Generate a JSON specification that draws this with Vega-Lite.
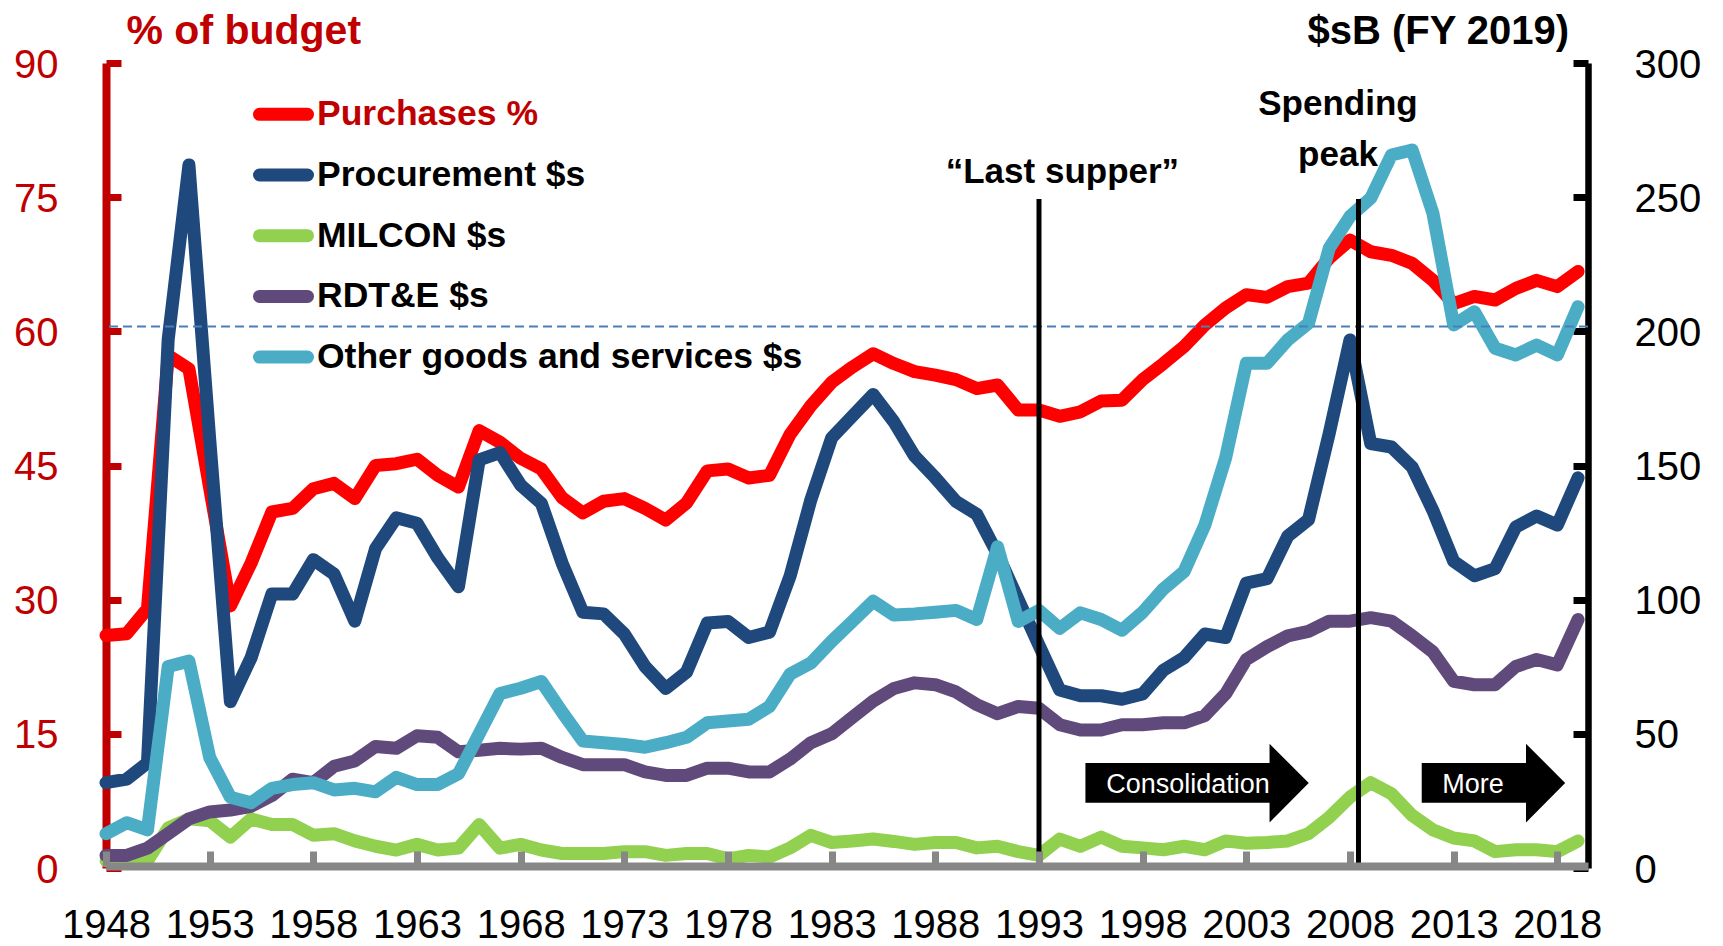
{
  "$schema": "https://vega.github.io/schema/vega-lite/v6.json",
  "width": 1482,
  "height": 805,
  "autosize": {"type": "none"},
  "padding": {"left": 106, "top": 63, "right": 135, "bottom": 78},
  "background": "white",
  "config": {
    "view": {"stroke": null},
    "font": "Liberation Sans",
    "axisX": {
      "title": null, "grid": false, "domain": true, "ticks": true,
      "format": "d", "labelFlush": false, "labelOverlap": false,
      "domainColor": "#878787", "domainWidth": 8, "domainOpacity": 1,
      "tickColor": "#878787", "tickWidth": 7, "tickSize": -15, "tickOpacity": 1,
      "labelFont": "Liberation Sans", "labelFontSize": 40, "labelColor": "black",
      "labelBaseline": "alphabetic", "labelPadding": 86, "offset": -2, "zindex": 1
    }
  },
  "datasets": {
    "budget": [
      {"year": 1948, "pur": 26.0, "proc": 31.8, "mil": 2.7, "rdt": 4.7, "oth": 12.8},
      {"year": 1949, "pur": 26.2, "proc": 33.1, "mil": 2.7, "rdt": 4.7, "oth": 16.9},
      {"year": 1950, "pur": 29.0, "proc": 39.2, "mil": 2.7, "rdt": 7.4, "oth": 14.2},
      {"year": 1951, "pur": 57.3, "proc": 197, "mil": 14.9, "rdt": 12.8, "oth": 75.1},
      {"year": 1952, "pur": 55.8, "proc": 262, "mil": 18.3, "rdt": 18.3, "oth": 77.1},
      {"year": 1953, "pur": 42.5, "proc": 160, "mil": 17.6, "rdt": 20.9, "oth": 41.2},
      {"year": 1954, "pur": 29.3, "proc": 62, "mil": 11.5, "rdt": 21.6, "oth": 26.4},
      {"year": 1955, "pur": 34.1, "proc": 78.4, "mil": 18.3, "rdt": 23.0, "oth": 24.3},
      {"year": 1956, "pur": 39.8, "proc": 102.1, "mil": 16.2, "rdt": 27.0, "oth": 29.7},
      {"year": 1957, "pur": 40.2, "proc": 102.1, "mil": 16.2, "rdt": 33.1, "oth": 31.1},
      {"year": 1958, "pur": 42.4, "proc": 114.9, "mil": 12.2, "rdt": 31.8, "oth": 31.8},
      {"year": 1959, "pur": 43.0, "proc": 109.5, "mil": 12.8, "rdt": 37.9, "oth": 29.1},
      {"year": 1960, "pur": 41.3, "proc": 92.0, "mil": 10.1, "rdt": 39.9, "oth": 29.7},
      {"year": 1961, "pur": 45.0, "proc": 119.0, "mil": 8.1, "rdt": 45.3, "oth": 28.4},
      {"year": 1962, "pur": 45.2, "proc": 130.5, "mil": 6.7, "rdt": 44.6, "oth": 33.8},
      {"year": 1963, "pur": 45.7, "proc": 128.5, "mil": 8.8, "rdt": 49.3, "oth": 31.1},
      {"year": 1964, "pur": 43.9, "proc": 115.6, "mil": 6.7, "rdt": 48.7, "oth": 31.1},
      {"year": 1965, "pur": 42.6, "proc": 104.8, "mil": 7.4, "rdt": 43.3, "oth": 35.1},
      {"year": 1966, "pur": 48.9, "proc": 152.1, "mil": 16.2, "rdt": 43.9, "oth": 50.0},
      {"year": 1967, "pur": 47.6, "proc": 154.8, "mil": 7.4, "rdt": 44.6, "oth": 65.0},
      {"year": 1968, "pur": 45.8, "proc": 142.7, "mil": 8.8, "rdt": 44.3, "oth": 67.0},
      {"year": 1969, "pur": 44.6, "proc": 135.9, "mil": 6.7, "rdt": 44.6, "oth": 69.5},
      {"year": 1970, "pur": 41.4, "proc": 113.6, "mil": 5.4, "rdt": 41.2, "oth": 58.1},
      {"year": 1971, "pur": 39.7, "proc": 95.3, "mil": 5.4, "rdt": 38.5, "oth": 47.3},
      {"year": 1972, "pur": 41.0, "proc": 94.7, "mil": 5.4, "rdt": 38.5, "oth": 46.7},
      {"year": 1973, "pur": 41.3, "proc": 87.2, "mil": 6.1, "rdt": 38.5, "oth": 46.0},
      {"year": 1974, "pur": 40.2, "proc": 75.1, "mil": 6.1, "rdt": 35.8, "oth": 45.0},
      {"year": 1975, "pur": 38.9, "proc": 66.9, "mil": 4.7, "rdt": 34.5, "oth": 46.7},
      {"year": 1976, "pur": 40.8, "proc": 73.0, "mil": 5.4, "rdt": 34.5, "oth": 48.7},
      {"year": 1977, "pur": 44.4, "proc": 91.3, "mil": 5.4, "rdt": 37.2, "oth": 54.1},
      {"year": 1978, "pur": 44.6, "proc": 91.9, "mil": 3.4, "rdt": 37.2, "oth": 54.8},
      {"year": 1979, "pur": 43.6, "proc": 85.9, "mil": 4.7, "rdt": 35.8, "oth": 55.4},
      {"year": 1980, "pur": 43.9, "proc": 87.9, "mil": 4.1, "rdt": 35.8, "oth": 60.2},
      {"year": 1981, "pur": 48.5, "proc": 108.9, "mil": 7.5, "rdt": 40.6, "oth": 72.3},
      {"year": 1982, "pur": 51.7, "proc": 137.3, "mil": 12.2, "rdt": 46.7, "oth": 76.4},
      {"year": 1983, "pur": 54.3, "proc": 160.3, "mil": 9.5, "rdt": 50.0, "oth": 84.5},
      {"year": 1984, "pur": 56.0, "proc": 168.4, "mil": 10.1, "rdt": 56.1, "oth": 91.9},
      {"year": 1985, "pur": 57.5, "proc": 176.5, "mil": 10.8, "rdt": 62.2, "oth": 99.4},
      {"year": 1986, "pur": 56.4, "proc": 166.3, "mil": 9.9, "rdt": 66.9, "oth": 94.3},
      {"year": 1987, "pur": 55.5, "proc": 153.5, "mil": 8.8, "rdt": 69.0, "oth": 94.7},
      {"year": 1988, "pur": 55.1, "proc": 145.4, "mil": 9.5, "rdt": 68.3, "oth": 95.3},
      {"year": 1989, "pur": 54.6, "proc": 136.6, "mil": 9.5, "rdt": 65.6, "oth": 96.0},
      {"year": 1990, "pur": 53.6, "proc": 131.8, "mil": 7.5, "rdt": 60.9, "oth": 92.6},
      {"year": 1991, "pur": 54.0, "proc": 117, "mil": 8.1, "rdt": 57.5, "oth": 119.7},
      {"year": 1992, "pur": 51.2, "proc": 100, "mil": 6.1, "rdt": 60.2, "oth": 91.9},
      {"year": 1993, "pur": 51.2, "proc": 83, "mil": 4.7, "rdt": 59.5, "oth": 96.0},
      {"year": 1994, "pur": 50.5, "proc": 66.3, "mil": 10.8, "rdt": 53.4, "oth": 89.3},
      {"year": 1995, "pur": 51.0, "proc": 64.2, "mil": 8.1, "rdt": 51.4, "oth": 95.1},
      {"year": 1996, "pur": 52.2, "proc": 64.2, "mil": 11.5, "rdt": 51.4, "oth": 92.6},
      {"year": 1997, "pur": 52.3, "proc": 62.9, "mil": 8.1, "rdt": 53.4, "oth": 88.6},
      {"year": 1998, "pur": 54.6, "proc": 64.9, "mil": 7.5, "rdt": 53.4, "oth": 95.3},
      {"year": 1999, "pur": 56.4, "proc": 73.7, "mil": 6.8, "rdt": 54.1, "oth": 104.0},
      {"year": 2000, "pur": 58.3, "proc": 78.4, "mil": 8.1, "rdt": 54.1, "oth": 110.5},
      {"year": 2001, "pur": 60.7, "proc": 87.2, "mil": 6.8, "rdt": 56.8, "oth": 127.8},
      {"year": 2002, "pur": 62.6, "proc": 85.9, "mil": 10.1, "rdt": 64.9, "oth": 152.8},
      {"year": 2003, "pur": 64.1, "proc": 106.2, "mil": 9.2, "rdt": 77.7, "oth": 188.1},
      {"year": 2004, "pur": 63.8, "proc": 107.8, "mil": 9.5, "rdt": 82.5, "oth": 188.1},
      {"year": 2005, "pur": 65.0, "proc": 123.7, "mil": 10.1, "rdt": 86.5, "oth": 196.8},
      {"year": 2006, "pur": 65.4, "proc": 129.8, "mil": 12.8, "rdt": 88.2, "oth": 203.0},
      {"year": 2007, "pur": 68.2, "proc": 162, "mil": 18.9, "rdt": 92.0, "oth": 231.0},
      {"year": 2008, "pur": 70.2, "proc": 196.8, "mil": 26.4, "rdt": 92.0, "oth": 242.8},
      {"year": 2009, "pur": 68.9, "proc": 158.2, "mil": 31.8, "rdt": 93.3, "oth": 249.6},
      {"year": 2010, "pur": 68.5, "proc": 156.9, "mil": 27.7, "rdt": 92.0, "oth": 265.7},
      {"year": 2011, "pur": 67.6, "proc": 149.4, "mil": 19.6, "rdt": 86.5, "oth": 267.6},
      {"year": 2012, "pur": 65.7, "proc": 133.2, "mil": 14.2, "rdt": 80.5, "oth": 244.0},
      {"year": 2013, "pur": 63.1, "proc": 114.3, "mil": 11.2, "rdt": 69.6, "oth": 202.4},
      {"year": 2014, "pur": 63.9, "proc": 108.9, "mil": 10.1, "rdt": 68.3, "oth": 207.3},
      {"year": 2015, "pur": 63.5, "proc": 111.6, "mil": 6.1, "rdt": 68.3, "oth": 193.7},
      {"year": 2016, "pur": 64.8, "proc": 127.1, "mil": 6.8, "rdt": 75.1, "oth": 191.2},
      {"year": 2017, "pur": 65.7, "proc": 131.2, "mil": 6.8, "rdt": 77.7, "oth": 194.9},
      {"year": 2018, "pur": 65.0, "proc": 127.8, "mil": 6.1, "rdt": 75.7, "oth": 191.2},
      {"year": 2019, "pur": 66.7, "proc": 145.4, "mil": 10.1, "rdt": 92.6, "oth": 209.2}
    ],
    "refline": [{"pct": 60.55}],
    "vlines": [
      {"year": 1993, "lo": 0, "hi": 74.8},
      {"year": 2008.41, "lo": 0, "hi": 74.8}
    ],
    "notes": [
      {"label": "“Last supper”", "year": 1994.13, "pct": 76.55},
      {"label": "Spending", "year": 2007.42, "pct": 84.2},
      {"label": "peak", "year": 2007.42, "pct": 78.5}
    ],
    "arrowBody": [
      {"arrow": "a", "x1": 1995.24, "x2": 2004.15, "top": 11.73, "bot": 7.3},
      {"arrow": "b", "x1": 2011.46, "x2": 2016.52, "top": 11.73, "bot": 7.3}
    ],
    "arrowHead": [
      {"arrow": "a", "year": 2004.12, "top": 13.9, "bot": 5.1},
      {"arrow": "a", "year": 2006.01, "top": 9.5, "bot": 9.5},
      {"arrow": "b", "year": 2016.49, "top": 13.9, "bot": 5.1},
      {"arrow": "b", "year": 2018.38, "top": 9.5, "bot": 9.5}
    ],
    "arrowText": [
      {"label": "Consolidation", "year": 2000.19, "pct": 8.44},
      {"label": "More", "year": 2013.93, "pct": 8.44}
    ]
  },
  "layer": [
    {
      "data": {"name": "budget"},
      "transform": [{"fold": ["pur"], "as": ["series", "value"]}],
      "mark": {"type": "line", "strokeWidth": 13, "strokeCap": "round", "strokeJoin": "round"},
      "encoding": {
        "x": {
          "field": "year", "type": "quantitative", "title": null,
          "scale": {"domain": [1948, 2019.48], "nice": false, "zero": false},
          "axis": {"values": [1948, 1953, 1958, 1963, 1968, 1973, 1978, 1983, 1988, 1993, 1998, 2003, 2008, 2013, 2018], "domain": true, "domainColor": "#878787", "domainWidth": 8, "ticks": true, "tickColor": "#878787", "tickWidth": 7, "tickSize": -15, "zindex": 1}
        },
        "y": {
          "field": "value", "type": "quantitative",
          "scale": {"domain": [0, 90], "nice": false},
          "axis": {
            "orient": "left", "grid": false,
            "values": [0, 15, 30, 45, 60, 75, 90],
            "domainColor": "#C00000", "domainWidth": 8,
            "tickColor": "#C00000", "tickWidth": 7, "tickSize": -15,
            "labelFont": "Liberation Sans", "labelFontSize": 40, "labelColor": "#C00000",
            "labelPadding": 63, "labelOffset": 2,
            "title": "% of budget", "titleColor": "#C00000", "titleFont": "Liberation Sans",
            "titleFontSize": 41, "titleFontWeight": "bold", "titleAngle": 0,
            "titleAlign": "left", "titleBaseline": "alphabetic", "titleX": 20, "titleY": -20
          }
        },
        "color": {
          "field": "series", "type": "nominal",
          "scale": {
            "domain": ["pur", "proc", "mil", "rdt", "oth"],
            "range": ["#FF0000", "#1F497D", "#92D050", "#604A7B", "#4BACC6"]
          },
          "legend": {
            "orient": "none", "legendX": 147, "legendY": 20.8, "title": null,
            "padding": 0, "offset": 0,
            "symbolType": "stroke", "symbolStrokeWidth": 13, "symbolSize": 2304,
            "labelFont": "Liberation Sans", "labelFontSize": 35.5, "labelFontWeight": "bold",
            "labelColor": "black", "labelOffset": 3, "labelLimit": 1000, "rowPadding": 3.7,
            "labelExpr": "datum.value === 'pur' ? 'Purchases %' : datum.value === 'proc' ? 'Procurement $s' : datum.value === 'mil' ? 'MILCON $s' : datum.value === 'rdt' ? 'RDT&E $s' : 'Other goods and services $s'",
            "encode": {
              "symbols": {"update": {"strokeCap": {"value": "round"}}},
              "labels": {"update": {"fill": {"signal": "datum.value === 'pur' ? '#C00000' : '#000000'"}}}
            }
          }
        }
      }
    },
    {
      "data": {"name": "budget"},
      "transform": [{"fold": ["proc", "mil", "rdt", "oth"], "as": ["series", "value"]}],
      "mark": {"type": "line", "strokeWidth": 13, "strokeCap": "round", "strokeJoin": "round"},
      "encoding": {
        "x": {"field": "year", "type": "quantitative", "title": null, "axis": {"values": [1948, 1953, 1958, 1963, 1968, 1973, 1978, 1983, 1988, 1993, 1998, 2003, 2008, 2013, 2018], "domain": true, "domainColor": "#878787", "domainWidth": 8, "ticks": true, "tickColor": "#878787", "tickWidth": 7, "tickSize": -15, "zindex": 1}},
        "y": {
          "field": "value", "type": "quantitative",
          "scale": {"domain": [0, 300], "nice": false},
          "axis": {
            "orient": "right", "grid": false,
            "values": [0, 50, 100, 150, 200, 250, 300],
            "domainColor": "black", "domainWidth": 6.5,
            "tickColor": "black", "tickWidth": 7, "tickSize": -15,
            "labelFont": "Liberation Sans", "labelFontSize": 40, "labelColor": "black",
            "labelPadding": 61, "labelOffset": 2, "labelAlign": "left",
            "title": "$sB (FY 2019)", "titleColor": "black", "titleFont": "Liberation Sans",
            "titleFontSize": 40, "titleFontWeight": "bold", "titleAngle": 0,
            "titleAlign": "left", "titleBaseline": "alphabetic", "titleX": -281, "titleY": -20
          }
        },
        "color": {"field": "series", "type": "nominal", "legend": null}
      }
    },
    {
      "data": {"name": "refline"},
      "mark": {"type": "rule", "color": "#4A7EBB", "strokeWidth": 2, "strokeDash": [9, 5]},
      "encoding": {
        "y": {"field": "pct", "type": "quantitative", "scale": {"domain": [0, 90], "nice": false}, "axis": null}
      }
    },
    {
      "data": {"name": "vlines"},
      "mark": {"type": "rule", "color": "black", "strokeWidth": 5},
      "encoding": {
        "x": {"field": "year", "type": "quantitative", "title": null, "axis": {"values": [1948, 1953, 1958, 1963, 1968, 1973, 1978, 1983, 1988, 1993, 1998, 2003, 2008, 2013, 2018], "domain": true, "domainColor": "#878787", "domainWidth": 8, "ticks": true, "tickColor": "#878787", "tickWidth": 7, "tickSize": -15, "zindex": 1}},
        "y": {"field": "lo", "type": "quantitative", "scale": {"domain": [0, 90], "nice": false}, "axis": null},
        "y2": {"field": "hi"}
      }
    },
    {
      "data": {"name": "arrowBody"},
      "mark": {"type": "rect", "color": "black"},
      "encoding": {
        "x": {"field": "x1", "type": "quantitative", "title": null, "axis": {"values": [1948, 1953, 1958, 1963, 1968, 1973, 1978, 1983, 1988, 1993, 1998, 2003, 2008, 2013, 2018], "domain": true, "domainColor": "#878787", "domainWidth": 8, "ticks": true, "tickColor": "#878787", "tickWidth": 7, "tickSize": -15, "zindex": 1}},
        "x2": {"field": "x2"},
        "y": {"field": "top", "type": "quantitative", "scale": {"domain": [0, 90], "nice": false}, "axis": null},
        "y2": {"field": "bot"}
      }
    },
    {
      "data": {"name": "arrowHead"},
      "mark": {"type": "area", "color": "black", "opacity": 1},
      "encoding": {
        "x": {"field": "year", "type": "quantitative", "title": null, "axis": {"values": [1948, 1953, 1958, 1963, 1968, 1973, 1978, 1983, 1988, 1993, 1998, 2003, 2008, 2013, 2018], "domain": true, "domainColor": "#878787", "domainWidth": 8, "ticks": true, "tickColor": "#878787", "tickWidth": 7, "tickSize": -15, "zindex": 1}},
        "y": {"field": "top", "type": "quantitative", "scale": {"domain": [0, 90], "nice": false}, "axis": null},
        "y2": {"field": "bot"},
        "detail": {"field": "arrow", "type": "nominal"}
      }
    },
    {
      "data": {"name": "arrowText"},
      "mark": {"type": "text", "color": "white", "font": "Liberation Sans", "fontSize": 27, "align": "center", "baseline": "alphabetic"},
      "encoding": {
        "x": {"field": "year", "type": "quantitative", "title": null, "axis": {"values": [1948, 1953, 1958, 1963, 1968, 1973, 1978, 1983, 1988, 1993, 1998, 2003, 2008, 2013, 2018], "domain": true, "domainColor": "#878787", "domainWidth": 8, "ticks": true, "tickColor": "#878787", "tickWidth": 7, "tickSize": -15, "zindex": 1}},
        "y": {"field": "pct", "type": "quantitative", "scale": {"domain": [0, 90], "nice": false}, "axis": null},
        "text": {"field": "label"}
      }
    },
    {
      "data": {"name": "notes"},
      "mark": {"type": "text", "color": "black", "font": "Liberation Sans", "fontSize": 35, "fontWeight": "bold", "align": "center", "baseline": "alphabetic"},
      "encoding": {
        "x": {"field": "year", "type": "quantitative", "title": null, "axis": {"values": [1948, 1953, 1958, 1963, 1968, 1973, 1978, 1983, 1988, 1993, 1998, 2003, 2008, 2013, 2018], "domain": true, "domainColor": "#878787", "domainWidth": 8, "ticks": true, "tickColor": "#878787", "tickWidth": 7, "tickSize": -15, "zindex": 1}},
        "y": {"field": "pct", "type": "quantitative", "scale": {"domain": [0, 90], "nice": false}, "axis": null},
        "text": {"field": "label"}
      }
    }
  ],
  "resolve": {"scale": {"y": "independent"}}
}
